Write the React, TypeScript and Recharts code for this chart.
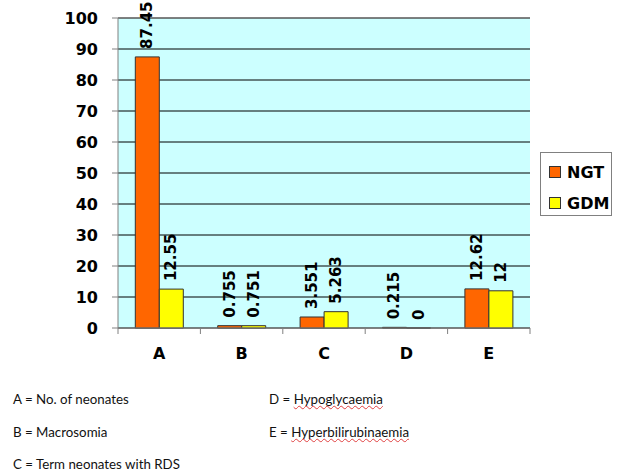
import React from "react";
import { BarChart, Bar, XAxis, YAxis, CartesianGrid, Legend, ReferenceLine } from "recharts";

const categories = ["A", "B", "C", "D", "E"];
const ngtValues = [87.45, 0.755, 3.551, 0.215, 12.62];
const gdmValues = [12.55, 0.751, 5.263, 0, 12];
const yTicks = [0, 10, 20, 30, 40, 50, 60, 70, 80, 90, 100];
const footLeft = ["A = No. of neonates", "B = Macrosomia", "C = Term neonates with RDS"];
const footRight: [string, string][] = [["D = ", "Hypoglycaemia"], ["E = ", "Hyperbilirubinaemia"]];

const data = categories.map((c, i) => ({ cat: c, NGT: ngtValues[i], GDM: gdmValues[i] }));

const FONT = "'DejaVu Sans', Verdana, sans-serif";
const X_TICK_MARGIN = 20;

const renderLabel = (props: any) => {
  const { x, y, width, height, value } = props;
  const h = Number(height) || 0;
  const cx = Number(x) + Number(width) / 2;
  const top = h < 0.05 ? Number(y) + h : Number(y);
  const ty = top - 8;
  return (
    <text
      x={cx}
      y={ty}
      transform={`rotate(-90 ${cx} ${ty})`}
      textAnchor="start"
      dominantBaseline="central"
      fontFamily={FONT}
      fontSize={15}
      fontWeight="bold"
      fill="#000"
    >
      {String(value)}
    </text>
  );
};

const renderXTick = (props: any) => {
  const { x, y, payload, index } = props;
  const half = Number(payload?.offset) || 41.2;
  const axisY = Number(y) - X_TICK_MARGIN;
  const last = index === categories.length - 1;
  return (
    <g>
      <line x1={x - half} x2={x - half} y1={axisY} y2={axisY + 6} stroke="#808080" />
      {last && <line x1={x + half} x2={x + half} y1={axisY} y2={axisY + 6} stroke="#808080" />}
      <text x={x} y={y} dy="0.71em" textAnchor="middle" fill="#000" fontFamily={FONT} fontSize={16} fontWeight="bold">
        {payload.value}
      </text>
    </g>
  );
};

const renderLegend = () => (
  <div
    style={{
      border: "1px solid #808080",
      background: "#fff",
      width: 72,
      height: 64,
      boxSizing: "border-box",
      padding: "7px 0 0 8px",
      fontFamily: FONT,
      fontWeight: "bold",
      fontSize: 16,
    }}
  >
    {[
      ["NGT", "#FF6600"],
      ["GDM", "#FFFF00"],
    ].map(([n, c]) => (
      <div key={n} style={{ display: "flex", alignItems: "center", height: 24, marginBottom: 7 }}>
        <span style={{ display: "inline-block", width: 10, height: 10, background: c, border: "1px solid #333", marginRight: 6 }} />
        <span>{n}</span>
      </div>
    ))}
  </div>
);

const zeroMin = (v: any) => (Number(v) === 0 ? 0.01 : 0);

export default function App() {
  return (
    <div style={{ position: "absolute", left: 0, top: 0, width: 618, height: 473, background: "#fff" }}>
      <BarChart
        width={618}
        height={380}
        data={data}
        margin={{ top: 18, right: 16, left: 0, bottom: 0 }}
        barCategoryGap="21%"
        barGap={0}
      >
        <CartesianGrid vertical={false} horizontal={true} stroke="#000" fill="#CCFFFF" fillOpacity={1} />
        <XAxis
          dataKey="cat"
          height={52}
          stroke="#808080"
          tickLine={false}
          tickSize={0}
          tickMargin={X_TICK_MARGIN}
          interval={0}
          tick={renderXTick}
        />
        <YAxis
          width={118}
          domain={[0, 100]}
          ticks={yTicks}
          stroke="#808080"
          tickSize={6}
          tickMargin={14}
          interval={0}
          tick={{ fill: "#000", fontFamily: FONT, fontSize: 16, fontWeight: "bold" }}
        />
        <YAxis yAxisId="r" orientation="right" width={0} domain={[0, 100]} tick={false} tickLine={false} stroke="#808080" />
        <ReferenceLine y={100} stroke="#808080" />
        <Legend
          layout="vertical"
          align="right"
          verticalAlign="middle"
          content={renderLegend}
          width={72}
          wrapperStyle={{ left: 540, top: 152, width: 72, height: 64 }}
        />
        <Bar dataKey="NGT" fill="#FF6600" stroke="#333" strokeWidth={1} isAnimationActive={false} label={renderLabel} />
        <Bar dataKey="GDM" fill="#FFFF00" stroke="#333" strokeWidth={1} minPointSize={zeroMin} isAnimationActive={false} label={renderLabel} />
      </BarChart>
      <div style={{ position: "absolute", left: 0, top: 0, width: 618, height: 473, fontFamily: "Lato, 'Open Sans', sans-serif", fontSize: 13.3, color: "#111" }}>
        {footLeft.map((t, i) => (
          <div key={t} style={{ position: "absolute", left: 13, top: 391 + i * 32.5, whiteSpace: "nowrap" }}>{t}</div>
        ))}
        {footRight.map(([a, b], i) => (
          <div key={b} style={{ position: "absolute", left: 269, top: 391 + i * 32.5, whiteSpace: "nowrap" }}>
            {a}
            <span style={{ textDecorationLine: "underline", textDecorationStyle: "wavy", textDecorationColor: "#e04040", textDecorationThickness: 1, textDecorationSkipInk: "none" } as any}>{b}</span>
          </div>
        ))}
      </div>
    </div>
  );
}
